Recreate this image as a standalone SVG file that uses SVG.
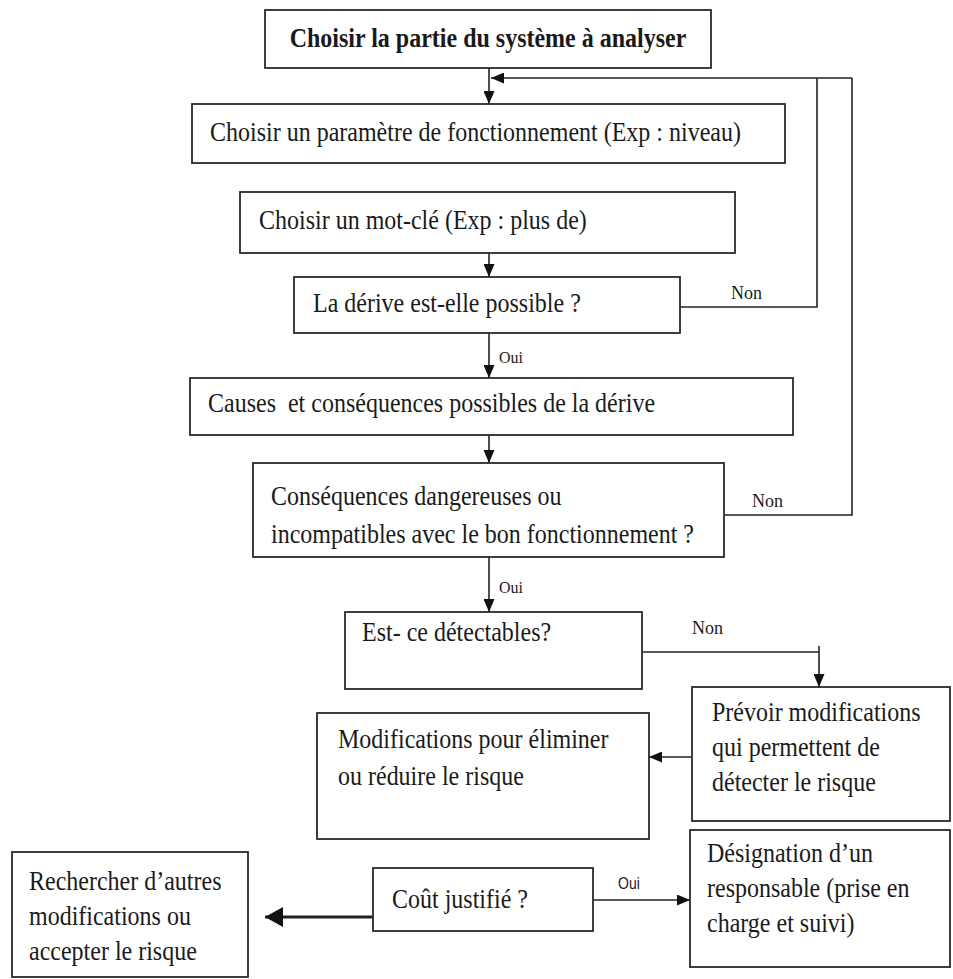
<svg xmlns="http://www.w3.org/2000/svg" width="953" height="979" viewBox="0 0 953 979">
<style>
.box{fill:#fff;stroke:#2a2a2a;stroke-width:1.8}
.t{font-family:"Liberation Serif","Times New Roman",serif;font-size:24px;fill:#1a1a1a}
.b{font-weight:bold}
.s{font-family:"Liberation Serif","Times New Roman",serif;font-size:18px;fill:#1a1a1a}
.o{font-family:"Liberation Serif","Times New Roman",serif;font-size:16px;fill:#1a1a1a}
.os{font-family:"Liberation Sans",Arial,sans-serif;font-size:14px;fill:#1a1a1a}
.ln{fill:none;stroke:#222;stroke-width:1.6}
</style>
<defs>
<marker id="ah" viewBox="0 0 13 11" refX="13" refY="5.5" markerWidth="13" markerHeight="11" markerUnits="userSpaceOnUse" orient="auto"><path d="M0,0 L13,5.5 L0,11 z" fill="#111"/></marker>
<marker id="ahb" viewBox="0 0 18 20" refX="18" refY="10" markerWidth="18" markerHeight="20" markerUnits="userSpaceOnUse" orient="auto"><path d="M0,0 L18,10 L0,20 z" fill="#111"/></marker>
</defs>
<g id="connectors">
<path class="ln" d="M489,68 V104" marker-end="url(#ah)"/>
<path class="ln" d="M852,78 H491" marker-end="url(#ah)"/>
<path class="ln" d="M680,307 H817 V78"/>
<path class="ln" d="M724,515 H852 V78"/>
<path class="ln" d="M489,253 V277" marker-end="url(#ah)"/>
<path class="ln" d="M489,333 V378" marker-end="url(#ah)"/>
<path class="ln" d="M489,435 V463" marker-end="url(#ah)"/>
<path class="ln" d="M489,557 V612" marker-end="url(#ah)"/>
<path class="ln" d="M642,652 H819"/>
<path class="ln" d="M819,646 V687" marker-end="url(#ah)"/>
<path class="ln" d="M692,757 H649" marker-end="url(#ah)"/>
<path class="ln" d="M593,900 H690" marker-end="url(#ah)"/>
<path class="ln" d="M373,917 H265" style="stroke-width:3" marker-end="url(#ahb)"/>
<text class="s" transform="translate(731 299) scale(1 1.1)">Non</text>
<text class="o" transform="translate(499 363) scale(1 1.1)">Oui</text>
<text class="s" transform="translate(752 507) scale(1 1.1)">Non</text>
<text class="o" transform="translate(499 593) scale(1 1.1)">Oui</text>
<text class="s" transform="translate(692 634) scale(1 1.1)">Non</text>
<text class="os" transform="translate(618 889) scale(1 1.15)">Oui</text>
</g>
<g id="n1"><rect class="box" x="265" y="10" width="446" height="58"/><text class="t b" text-anchor="middle" transform="translate(488 47) scale(1 1.1)">Choisir la partie du système à analyser</text></g>
<g id="n2"><rect class="box" x="192" y="104" width="593" height="59"/><text class="t" transform="translate(210 141) scale(1 1.1)">Choisir un paramètre de fonctionnement (Exp : niveau)</text></g>
<g id="n3"><rect class="box" x="240" y="192" width="495" height="61"/><text class="t" transform="translate(259 229) scale(1 1.1)">Choisir un mot-clé (Exp : plus de)</text></g>
<g id="n4"><rect class="box" x="294" y="277" width="386" height="56"/><text class="t" transform="translate(313 312) scale(1 1.1)">La dérive est-elle possible ?</text></g>
<g id="n5"><rect class="box" x="190" y="378" width="603" height="57"/><text class="t" xml:space="preserve" transform="translate(208 412) scale(1 1.1)">Causes  et conséquences possibles de la dérive</text></g>
<g id="n6"><rect class="box" x="253" y="463" width="471" height="94"/><text class="t" transform="translate(271 505) scale(1 1.1)">Conséquences dangereuses ou</text><text class="t" transform="translate(271 543) scale(1 1.1)">incompatibles avec le bon fonctionnement ?</text></g>
<g id="n7"><rect class="box" x="345" y="612" width="297" height="77"/><text class="t" transform="translate(362 641) scale(1 1.1)">Est- ce détectables?</text></g>
<g id="n8"><rect class="box" x="692" y="687" width="258" height="134"/><text class="t" transform="translate(712 721) scale(1 1.1)">Prévoir modifications</text><text class="t" transform="translate(712 756) scale(1 1.1)">qui permettent de</text><text class="t" transform="translate(712 791) scale(1 1.1)">détecter le risque</text></g>
<g id="n9"><rect class="box" x="317" y="713" width="332" height="126"/><text class="t" transform="translate(338 748) scale(1 1.1)">Modifications pour éliminer</text><text class="t" transform="translate(338 785) scale(1 1.1)">ou réduire le risque</text></g>
<g id="n10"><rect class="box" x="373" y="868" width="220" height="63"/><text class="t" transform="translate(392 908) scale(1 1.1)">Coût justifié ?</text></g>
<g id="n11"><rect class="box" x="690" y="830" width="260" height="137"/><text class="t" transform="translate(707 862) scale(1 1.1)">Désignation d’un</text><text class="t" transform="translate(707 897) scale(1 1.1)">responsable (prise en</text><text class="t" transform="translate(707 932) scale(1 1.1)">charge et suivi)</text></g>
<g id="n12"><rect class="box" x="12" y="852" width="236" height="125"/><text class="t" transform="translate(29 890) scale(1 1.1)">Rechercher d’autres</text><text class="t" transform="translate(29 925) scale(1 1.1)">modifications ou</text><text class="t" transform="translate(29 960) scale(1 1.1)">accepter le risque</text></g>
</svg>
